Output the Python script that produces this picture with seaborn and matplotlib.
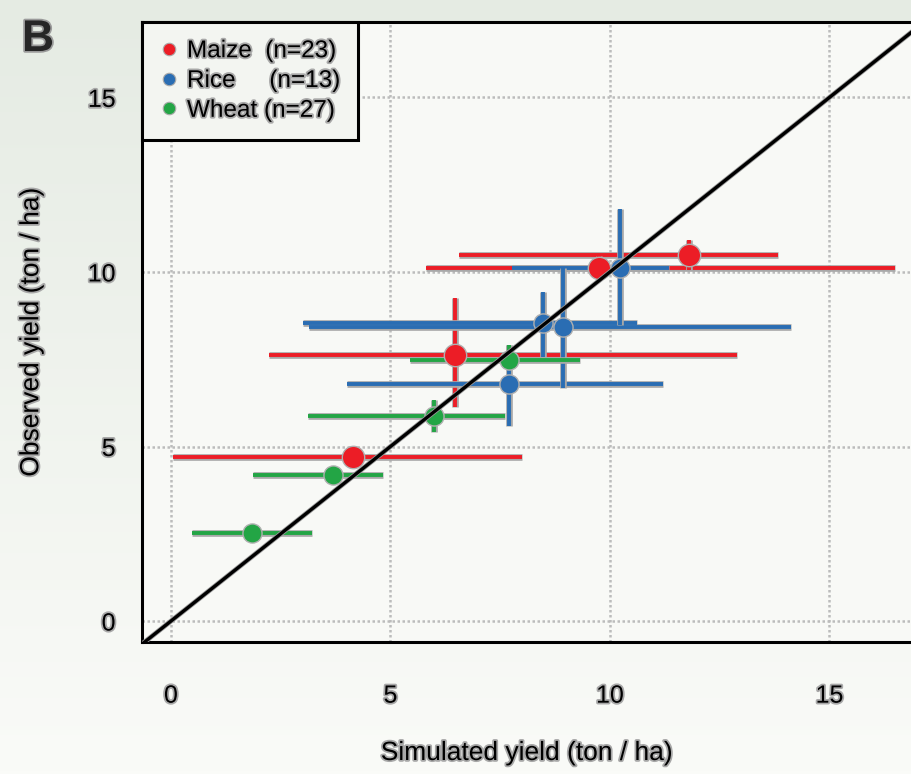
import numpy as np
import pandas as pd
import matplotlib
matplotlib.use("Agg")
import matplotlib.pyplot as plt
import matplotlib.patheffects as pe
from matplotlib.lines import Line2D
import seaborn as sns

# ---------------- data ----------------
crops = ["Maize", "Rice", "Wheat"]
counts = [23, 13, 27]
crop_colors = ["#ec1d26", "#2a6db3", "#23a545"]

maize_x = [4.14, 6.47, 9.74, 11.79]
maize_y = [4.71, 7.62, 10.12, 10.49]
maize_x_lo = [0.05, 2.24, 5.82, 6.55]
maize_x_hi = [7.99, 12.89, 16.49, 13.83]
maize_y_lo = [4.62, 6.14, 9.85, 10.06]
maize_y_hi = [4.80, 9.25, 10.45, 10.92]

rice_x = [10.23, 8.47, 8.94, 7.69]
rice_y = [10.12, 8.55, 8.41, 6.78]
rice_x_lo = [7.76, 3.01, 3.14, 4.00]
rice_x_hi = [11.35, 10.62, 14.12, 11.21]
rice_y_lo = [8.48, 7.57, 6.67, 5.59]
rice_y_hi = [11.80, 9.44, 10.10, 7.91]

wheat_x = [1.85, 3.68, 5.99, 7.69]
wheat_y = [2.52, 4.18, 5.87, 7.48]
wheat_x_lo = [0.48, 1.87, 3.11, 5.44]
wheat_x_hi = [3.21, 4.82, 7.61, 9.32]
wheat_y_lo = [2.45, 4.10, 5.42, 7.25]
wheat_y_hi = [2.60, 4.26, 6.33, 7.91]

ticks = [0, 5, 10, 15]

rows = []
for crop, xs, ys, xl, xh, yl, yh in [
    ("Maize", maize_x, maize_y, maize_x_lo, maize_x_hi, maize_y_lo, maize_y_hi),
    ("Rice", rice_x, rice_y, rice_x_lo, rice_x_hi, rice_y_lo, rice_y_hi),
    ("Wheat", wheat_x, wheat_y, wheat_x_lo, wheat_x_hi, wheat_y_lo, wheat_y_hi),
]:
    for a, b, c, d, e, f in zip(xs, ys, xl, xh, yl, yh):
        rows.append(dict(crop=crop, x=a, y=b, xlo=c, xhi=d, ylo=e, yhi=f))
df = pd.DataFrame(rows)

# ---------------- style ----------------
sns.set_theme(style="white")
plt.rcParams["font.family"] = ["Liberation Sans", "DejaVu Sans"]

W, H = 912, 774
fig = plt.figure(figsize=(W / 100, H / 100), dpi=100)

# background gradient
bg = fig.add_axes([0, 0, 1, 1], zorder=-10)
grad = np.linspace(0, 1, 256).reshape(-1, 1)
top = np.array([229, 235, 227]) / 255
bot = np.array([250, 251, 248]) / 255
img = top[None, None, :] * (1 - grad[:, :, None]) + bot[None, None, :] * grad[:, :, None]
bg.imshow(img, aspect="auto", extent=[0, 1, 0, 1])
bg.axis("off")

left_px, right_px, top_px, bot_px = 142, 912, 22, 642
ax = fig.add_axes([left_px / W, 1 - bot_px / H, (right_px - left_px) / W, (bot_px - top_px) / H])
ax.set_facecolor("#f8f9f6")

halo_txt = [pe.withStroke(linewidth=2.6, foreground="#a8a8a8")]

# grid
for t in ticks:
    ax.axvline(t, color="#bcbcbc", lw=1.8, ls=(0, (1, 1.0)), zorder=1)
    ax.axhline(t, color="#bcbcbc", lw=1.8, ls=(0, (1, 1.0)), zorder=1)

pal = dict(zip(crops, crop_colors))
sizes = {"Maize": 260, "Rice": 190, "Wheat": 190}

for crop in crops:
    d = df[df.crop == crop]
    col = pal[crop]
    eb = ax.errorbar(d.x, d.y,
                     xerr=[d.x - d.xlo, d.xhi - d.x],
                     yerr=[d.y - d.ylo, d.yhi - d.y],
                     fmt="none", ecolor=col, elinewidth=2.8, capsize=0, zorder=3)
    for lc in eb.lines[2]:
        lc.set_path_effects([pe.Stroke(linewidth=4.8, foreground="#a8a8a8"), pe.Normal()])
    sns.scatterplot(data=d, x="x", y="y", color=col, s=sizes[crop],
                    edgecolor="#b0b0b0", linewidth=1.0, ax=ax, zorder=4, legend=False)

# 1:1 line
ax.plot([-1, 18], [-1, 18], color="black", lw=2.4, zorder=5,
        path_effects=[pe.Stroke(linewidth=3.6, foreground="#9a9a9a"), pe.Normal()])

ax.set_xlim(-0.66, 16.88)
ax.set_ylim(-0.6, 17.16)
ax.set_xticks(ticks)
ax.set_yticks(ticks)
ax.set_xticklabels([str(t) for t in ticks], fontsize=18, color="black", path_effects=halo_txt)
ax.set_yticklabels([str(t) for t in ticks], fontsize=18, color="black", path_effects=halo_txt)
ax.tick_params(direction="out", length=13, width=1.6, color="black")
ax.tick_params(axis="x", pad=17)
ax.tick_params(axis="y", pad=6)

for s in ["left", "bottom", "top"]:
    ax.spines[s].set_color("black")
    ax.spines[s].set_linewidth(2.2)
ax.spines["right"].set_visible(False)

ax.set_xlabel("Simulated yield (ton / ha)", fontsize=19, color="black", labelpad=24, path_effects=halo_txt)
ax.set_ylabel("Observed yield (ton / ha)", fontsize=19, color="black", labelpad=32, path_effects=halo_txt)

# legend
labels = ["Maize  (n=23)", "Rice     (n=13)", "Wheat (n=27)"]
handles = [Line2D([0], [0], marker="o", ls="none", markersize=9, markerfacecolor=c,
                  markeredgecolor="#aaaaaa", markeredgewidth=0.8) for c in crop_colors]
leg = ax.legend(handles, labels, loc="upper left", bbox_to_anchor=(0, 1), frameon=True,
                fontsize=17.5, handletextpad=0.4, borderpad=0.75, labelspacing=0.32,
                handlelength=0.7, fancybox=False, borderaxespad=0)
leg.get_frame().set_edgecolor("black")
leg.get_frame().set_linewidth(2.2)
leg.get_frame().set_facecolor("#f3f5f1")
leg.get_frame().set_alpha(1)
for t in leg.get_texts():
    t.set_path_effects(halo_txt)
    t.set_color("black")
leg.set_zorder(10)

fig.text(22 / W, 1 - 51 / H, "B", fontsize=32, fontweight="bold", ha="left", va="baseline",
         path_effects=[pe.withStroke(linewidth=2.5, foreground="#9a9a9a")])

fig.savefig("out.png", dpi=100, facecolor=fig.get_facecolor())
